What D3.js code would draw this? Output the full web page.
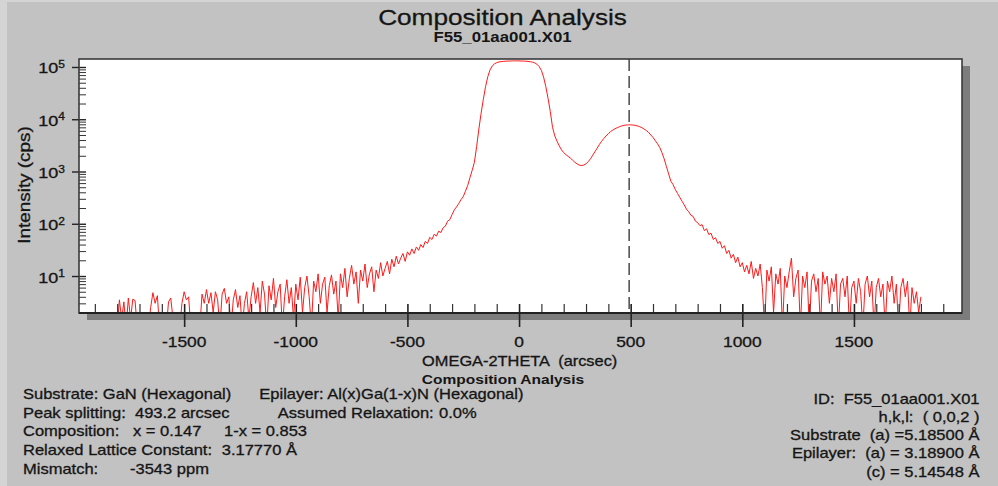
<!DOCTYPE html>
<html><head><meta charset="utf-8">
<script src="https://cdn.jsdelivr.net/npm/d3@7"></script>
<style>html,body{margin:0;padding:0;background:#c2c2c2;overflow:hidden;} svg{display:block;}</style>
</head><body><svg id="chart" width="998" height="486"></svg>
<script>
// ---------------- data ----------------
const omegaStart = -1800;   // arcsec
const omegaStep = 10;       // arcsec
const intensity = [
  1, 3.5, 1.5, 3.2, 1, 3.8, 1.5, 3.6, 3.4, 1, 1, 1, 1, 1, 1, 2.5, 4.8, 3, 4.2, 1,
  1, 1, 1, 3.2, 3.8, 1.5, 1, 1, 1, 3, 5, 3.5, 4, 1, 1, 1, 1, 1, 4.5, 3,
  5.5, 3, 4.8, 2, 5, 3.5, 1, 4.5, 5.8, 3, 4, 1, 3.5, 5.5, 2.5, 4.2, 1, 3, 5, 1.5,
  4, 7.5, 3, 6, 2, 8, 4.5, 1, 6.5, 3.5, 9, 2.5, 5, 7, 1, 4, 8.5, 3, 6, 1.5,
  7, 3.5, 9.5, 2, 6, 10, 4, 1, 8, 5, 11, 3, 7, 9.5, 2, 6.5, 10.5, 4.5, 8, 1.5,
  11, 6, 14, 4, 9, 16, 7, 12, 3, 13, 8, 17, 6, 11, 15, 5, 13, 9, 18, 10,
  14, 19, 11, 21, 15, 24, 17, 22, 27, 19, 29, 25, 33, 27, 36, 31, 40, 35, 46, 42,
  55, 50, 63, 58, 72, 68, 84, 90, 112, 120, 150, 185, 210, 245, 290, 330, 420, 540, 760, 1050,
  1500, 3000, 6500, 13000, 24000, 42000, 65000, 88000, 105000, 115000, 121000, 125000, 127000, 128000, 129000, 130000, 130000, 131000, 131000, 131000,
  131000, 130000, 130000, 129000, 128000, 126000, 124000, 120000, 113000, 102000, 86000, 64000, 42000, 25000, 14000, 7000, 4800, 3800, 3100, 2600,
  2300, 2100, 1950, 1800, 1650, 1500, 1400, 1320, 1300, 1330, 1400, 1550, 1750, 2050, 2400, 2800, 3300, 3800, 4300, 4800,
  5300, 5800, 6200, 6600, 6900, 7200, 7450, 7650, 7750, 7800, 7800, 7750, 7650, 7450, 7200, 6900, 6500, 6100, 5600, 5000,
  4500, 3900, 3400, 2900, 2300, 1750, 1250, 900, 650, 560, 450, 380, 320, 270, 230, 190, 170, 145, 138, 112,
  105, 92, 96, 74, 80, 62, 66, 50, 54, 42, 46, 34, 38, 27, 31, 22, 26, 18, 23, 15,
  18, 12, 16, 11, 19, 9, 14, 10, 17, 6, 1, 13, 8, 15, 2, 11, 7, 14, 1, 10,
  6, 12, 22, 4, 9, 13, 1, 10, 6, 12, 1, 8, 11, 5, 9, 1, 12, 7, 10, 3,
  9, 5, 11, 1, 7, 9, 4, 10, 1, 6, 8, 3, 9, 5, 1, 7, 10, 4, 8, 1,
  6, 9, 4, 7, 1, 8, 5, 10, 3, 7, 1, 6, 9, 4, 8, 1, 6, 3, 5, 2, 4
];
const peakSplitting = 493.2;
const xTickValues = [-1500, -1000, -500, 0, 500, 1000, 1500];
const yTickExponents = [1, 2, 3, 4, 5];
const titleText = "Composition Analysis";
const subtitleText = "F55_01aa001.X01";
const xAxisTitle = "OMEGA-2THETA  (arcsec)";
const yAxisTitle = "Intensity (cps)";
const footerTitle = "Composition Analysis";
const infoLeftCol1 = ["Substrate: GaN (Hexagonal)", "Peak splitting:", "Composition:", "Relaxed Lattice Constant:", "Mismatch:"];
const infoLeftVals = [null, "493.2 arcsec", "x = 0.147", "3.17770 Å", "-3543 ppm"];
const infoLeftCol2 = ["Epilayer: Al(x)Ga(1-x)N (Hexagonal)", "Assumed Relaxation:", "1-x = 0.853", null, null];
const infoLeftCol2Vals = [null, "0.0%", null, null, null];
const infoRight = ["ID:  F55_01aa001.X01", "h,k,l:  ( 0,0,2 )", "Substrate  (a) =5.18500 Å", "Epilayer:  (a) = 3.18900 Å", "(c) = 5.14548 Å"];

// ---------------- layout ----------------
const W = 998, H = 486;
const plot = {left: 79, top: 59, right: 962, bottom: 313};
const FONT = "'Liberation Sans', Arial, sans-serif";
const SX = 1.18;

const svg = d3.select("#chart");
svg.append("rect").attr("width", W).attr("height", H).attr("fill", "#c2c2c2");
svg.append("rect").attr("x", 0).attr("y", 0).attr("width", 7).attr("height", H).attr("fill", "#d4d4d4");
svg.append("rect").attr("x", 0).attr("y", 0).attr("width", W).attr("height", 2).attr("fill", "#d4d4d4");

const x = d3.scaleLinear().domain([-1971, 1984]).range([plot.left, plot.right]);
const y = d3.scaleLog().domain([1.96, 142200]).range([plot.bottom, plot.top]);

function label(parent, px, py, str, o = {}) {
  const g = parent.append("g")
    .attr("transform", `translate(${px},${py})${o.rotate ? ` rotate(${o.rotate})` : ""} scale(${o.sx || SX},1)`);
  const col = o.fill || "#151515";
  const t = g.append("text")
    .attr("x", 0).attr("y", 0)
    .attr("text-anchor", o.anchor || "start")
    .attr("font-family", FONT)
    .attr("font-size", o.size || 14)
    .attr("font-weight", o.weight || "normal")
    .attr("fill", col)
    .attr("stroke", col).attr("stroke-width", o.weight === "bold" ? 0 : 0.3)
    .attr("xml:space", "preserve")
    .style("white-space", "pre")
    .text(str);
  return t;
}

// shadow + plot background
svg.append("rect").attr("x", plot.left + 8).attr("y", plot.top + 7)
  .attr("width", plot.right - plot.left).attr("height", plot.bottom - plot.top)
  .attr("fill", "#7c7c7c");
svg.append("rect").attr("x", plot.left).attr("y", plot.top)
  .attr("width", plot.right - plot.left).attr("height", plot.bottom - plot.top)
  .attr("fill", "#ffffff");

svg.append("clipPath").attr("id", "clip").append("rect")
  .attr("x", plot.left).attr("y", plot.top)
  .attr("width", plot.right - plot.left).attr("height", plot.bottom - plot.top);

// curve
const points = intensity.map((v, i) => [omegaStart + i * omegaStep, v]);
const line = d3.line().x(d => x(d[0])).y(d => y(Math.max(d[1], 0.5)));
svg.append("path").datum(points)
  .attr("clip-path", "url(#clip)")
  .attr("fill", "none").attr("stroke", "#ff1a1a").attr("stroke-width", 1)
  .attr("d", line);

// dashed marker line at epilayer peak
svg.append("line")
  .attr("x1", x(peakSplitting)).attr("x2", x(peakSplitting))
  .attr("y1", plot.top).attr("y2", plot.bottom)
  .attr("stroke", "#555").attr("stroke-width", 1.6).attr("stroke-dasharray", "12,5");

// x axis: minor ticks (inside) and major ticks (crossing)
const xMinor = d3.range(-1900, 1901, 100).filter(v => !xTickValues.includes(v));
const xAxisMinor = d3.axisBottom(x).tickValues(xMinor).tickSize(-9).tickFormat("");
const gxm = svg.append("g").attr("transform", `translate(0,${plot.bottom})`).call(xAxisMinor);
gxm.select(".domain").remove();
gxm.selectAll("line").attr("stroke", "#333").attr("stroke-width", 1.2);

const xAxisMajor = d3.axisBottom(x).tickValues(xTickValues).tickSizeInner(14).tickSizeOuter(0).tickFormat("");
const gx = svg.append("g").attr("transform", `translate(0,${plot.bottom})`).call(xAxisMajor);
gx.select(".domain").remove();
gx.selectAll(".tick line").attr("y1", -9).attr("stroke", "#222").attr("stroke-width", 1.6);
xTickValues.forEach(v => {
  label(svg, x(v), 347, d3.format("d")(v).replace("−", "-"), {anchor: "middle", size: 14.5, sx: 1.2});
});

// y axis: minor ticks (inside) and major ticks (crossing)
const yMinor = [];
for (let e = 0; e <= 5; e++) for (let m = 2; m <= 9; m++) {
  const v = m * Math.pow(10, e);
  if (v >= y.domain()[0] && v <= y.domain()[1]) yMinor.push(v);
}
const yAxisMinor = d3.axisLeft(y).tickValues(yMinor).tickSize(-7).tickFormat("");
const gym = svg.append("g").attr("transform", `translate(${plot.left},0)`).call(yAxisMinor);
gym.select(".domain").remove();
gym.selectAll("line").attr("stroke", "#333").attr("stroke-width", 1);

const yMajorVals = yTickExponents.map(e => Math.pow(10, e));
const yAxisMajor = d3.axisLeft(y).tickValues(yMajorVals).tickSizeInner(7).tickSizeOuter(0).tickFormat("");
const gy = svg.append("g").attr("transform", `translate(${plot.left},0)`).call(yAxisMajor);
gy.select(".domain").remove();
gy.selectAll(".tick line").attr("x2", 7).attr("x1", -7).attr("stroke", "#222").attr("stroke-width", 1.4);
yTickExponents.forEach(e => {
  const t = label(svg, 65, y(Math.pow(10, e)) + 6.5, "10", {anchor: "end", size: 15, sx: 1.2});
  t.append("tspan").attr("dy", -5.5).attr("font-size", 10).text(String(e));
});

// frame
svg.append("rect").attr("x", plot.left).attr("y", plot.top)
  .attr("width", plot.right - plot.left).attr("height", plot.bottom - plot.top)
  .attr("fill", "none").attr("stroke", "#3a3a3a").attr("stroke-width", 1.6);
svg.append("line").attr("x1", plot.left).attr("x2", plot.right)
  .attr("y1", plot.bottom).attr("y2", plot.bottom)
  .attr("stroke", "#222").attr("stroke-width", 2);

// titles
label(svg, 502.5, 25, titleText, {anchor: "middle", size: 22, sx: 1.19});
label(svg, 502.5, 41.5, subtitleText, {anchor: "middle", size: 14, weight: "bold", sx: 1.2});
label(svg, 29.5, 185, yAxisTitle, {anchor: "middle", size: 16, sx: 1.18, rotate: -90});
label(svg, 519.7, 366, xAxisTitle, {anchor: "middle", size: 14, sx: 1.17});
label(svg, 503, 384, footerTitle, {anchor: "middle", size: 13.5, weight: "bold", sx: 1.15});

// info block
const leftBase = 399, leftStep = 18.7;
const valX = [null, 135, 133, 221.7, 130];
infoLeftCol1.forEach((s, i) => { label(svg, 23, leftBase + i * leftStep, s); });
infoLeftVals.forEach((s, i) => { if (s) label(svg, valX[i], leftBase + i * leftStep, s); });
const col2X = [259.3, 277.7, 224, null, null];
infoLeftCol2.forEach((s, i) => { if (s) label(svg, col2X[i], leftBase + i * leftStep, s); });
infoLeftCol2Vals.forEach((s, i) => { if (s) label(svg, 439, leftBase + i * leftStep, s); });
const rightBase = 403.5, rightStep = 18.3;
infoRight.forEach((s, i) => { label(svg, 979.5, rightBase + i * rightStep, s, {anchor: "end"}); });
</script>
</body></html>
